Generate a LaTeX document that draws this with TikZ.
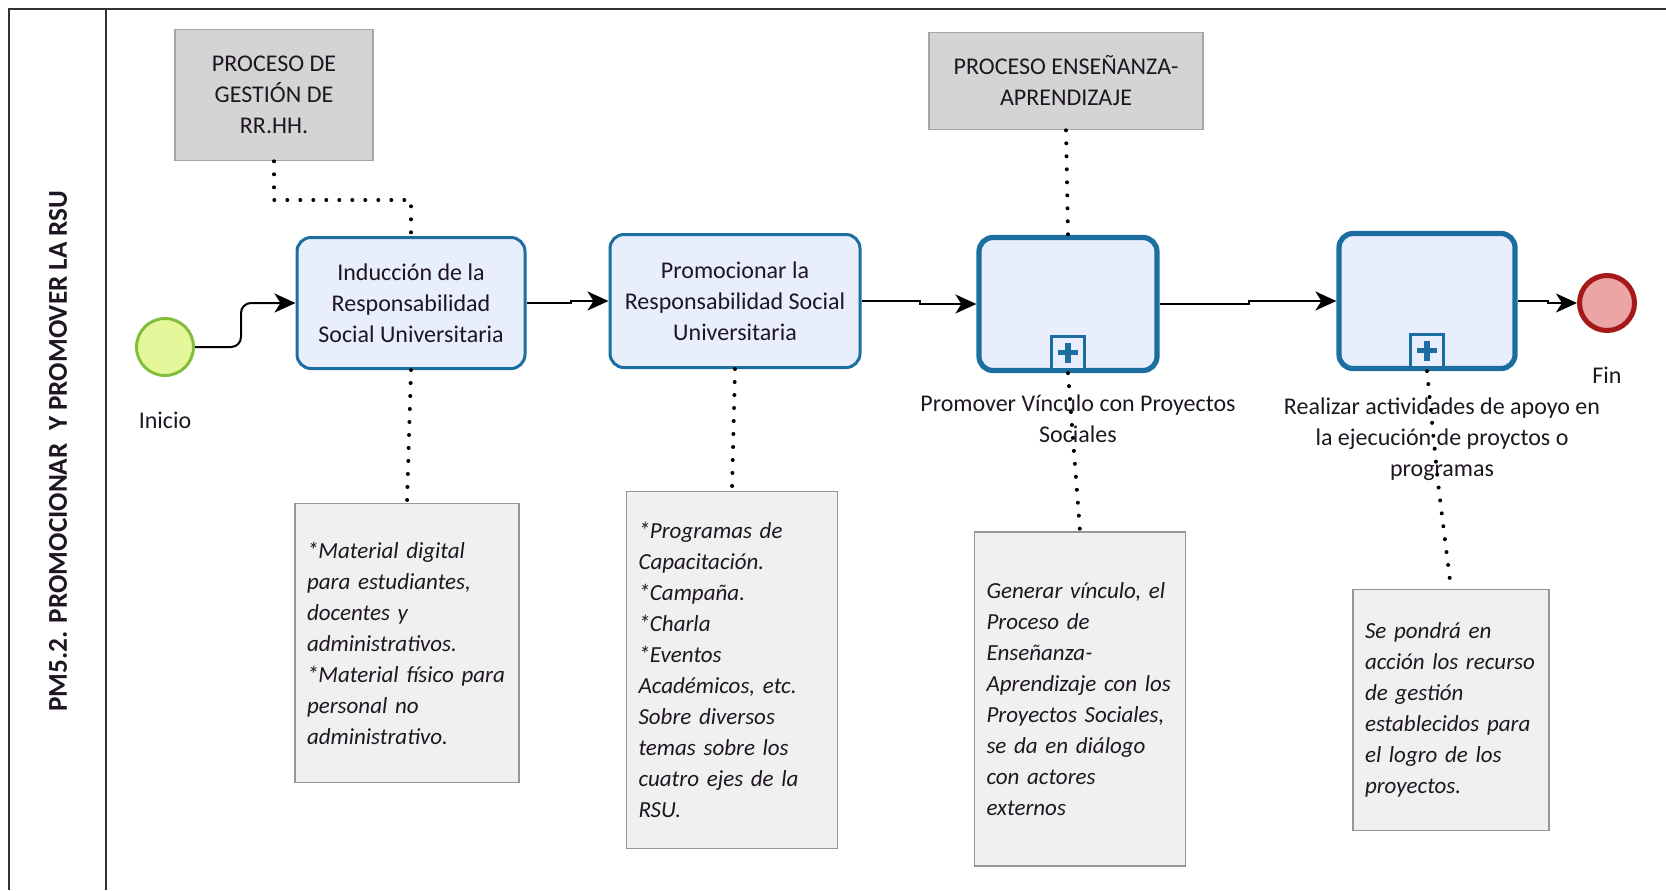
\documentclass[tikz,border=0pt]{standalone}
\usepackage{fontspec}
\setmainfont{Carlito}
\usepackage{tikz}
\usetikzlibrary{arrows.meta,positioning,calc}
\definecolor{rsuedge}{RGB}{28,110,160}
\definecolor{rsutask}{RGB}{232,238,251}
\definecolor{rsuproc}{RGB}{212,212,212}
\definecolor{rsuprocedge}{RGB}{165,165,165}
\definecolor{rsunote}{RGB}{240,240,240}
\definecolor{rsunoteedge}{RGB}{150,150,150}
\definecolor{rsustart}{RGB}{228,248,155}
\definecolor{rsustartedge}{RGB}{130,190,60}
\definecolor{rsuend}{RGB}{235,165,165}
\definecolor{rsuendedge}{RGB}{165,25,25}
\definecolor{rsuink}{RGB}{30,22,32}
\definecolor{rsuframe}{RGB}{50,50,50}
\tikzset{
  task/.style={
    draw=rsuedge, fill=rsutask, line width=1.5pt, rounded corners=7pt,
    align=center, inner sep=2pt, text=rsuink,
    font=\fontsize{12}{15.5}\selectfont
  },
  subp/.style={task, line width=2.6pt},
  proc/.style={
    draw=rsuprocedge, fill=rsuproc, line width=0.8pt, align=center,
    inner sep=2pt, text=rsuink, font=\fontsize{12}{15.5}\selectfont
  },
  note/.style={
    draw=rsunoteedge, fill=rsunote, line width=0.8pt, align=left,
    inner xsep=6pt, inner ysep=2pt, text=rsuink,
    font=\itshape\fontsize{11.5}{15.5}\selectfont
  },
  evstart/.style={circle, draw=rsustartedge, fill=rsustart, line width=1.5pt, minimum size=28.5pt},
  evend/.style={circle, draw=rsuendedge, fill=rsuend, line width=2.5pt, minimum size=27.5pt},
  lbl/.style={align=center, text=rsuink, inner sep=1pt, font=\fontsize{12}{15.5}\selectfont},
  lanetxt/.style={text=rsuink, inner sep=1pt, font=\bfseries\fontsize{13.6}{15}\selectfont},
  plusbox/.style={draw=rsuedge, fill=rsutask, line width=1.5pt, minimum size=16.5pt, inner sep=0pt},
  pluscross/.style={draw=rsuedge, line width=2.8pt},
  flow/.style={-{Stealth[length=10.5pt,width=9.5pt,inset=3pt]}, draw=black, line width=1pt},
  assoc/.style={draw=black, line width=2pt, line cap=round, dash pattern=on 0pt off 6.5pt},
  frameline/.style={draw=rsuframe, line width=1pt}
}
\begin{document}
\begin{tikzpicture}[x=0.5pt, y=-0.5pt]
  \useasboundingbox (0,0) rectangle (1666,890);
  % pool and lane
  \draw[frameline] (1666,8.5) -- (8.5,8.5) -- (8.5,890);
  \draw[frameline] (106,8.5) -- (106,890);
  \node[lanetxt, rotate=90] (lane) at (58,451) {PM5.2. PROMOCIONAR~~Y PROMOVER LA RSU};
  % events and activities
  \node[evstart] (ini) at (165,347) {};
  \node[lbl] (inilbl) at (165,420) {Inicio};
  \node[task, minimum width=114pt, minimum height=65.5pt] (t1) at (411,303)
    {Inducción de la\\Responsabilidad\\Social Universitaria};
  \node[task, minimum width=125pt, minimum height=66.5pt] (t2) at (735,301)
    {Promocionar la\\Responsabilidad Social\\Universitaria};
  \node[subp, minimum width=89pt, minimum height=66.5pt] (s3) at (1068,304) {};
  \node[subp, minimum width=88pt, minimum height=67.5pt] (s4) at (1427,301) {};
  \node[evend] (fin) at (1607,303) {};
  \node[lbl] (finlbl) at (1607,375) {Fin};
  \node[lbl] (s3lbl) at (1078,419) {Promover Vínculo con Proyectos\\Sociales};
  \node[lbl] (s4lbl) at (1442,439) {Realizar actividades de apoyo en\\la ejecución de proyctos o\\programas};
  % sub-process markers
  \foreach \s in {s3,s4} {
    \node[plusbox, anchor=south, yshift=1.3pt] (\s plus) at (\s.south) {};
    \draw[pluscross] ($(\s plus.center)+(-10,0)$) -- ($(\s plus.center)+(10,0)$);
    \draw[pluscross] ($(\s plus.center)+(0,-10)$) -- ($(\s plus.center)+(0,10)$);
  }
  % related processes
  \node[proc, minimum width=99pt, minimum height=65.5pt] (g1) at (274,95)
    {PROCESO DE\\GESTIÓN DE\\RR.HH.};
  \node[proc, minimum width=137pt, minimum height=48.5pt] (g2) at (1066,81)
    {PROCESO ENSEÑANZA-\\APRENDIZAJE};
  % annotations
  \node[note, text width=100pt, minimum height=139.5pt] (n1) at (407,643)
    {*Material digital\\para estudiantes,\\docentes y\\administrativos.\\{}*Material físico para\\personal no\\administrativo.};
  \node[note, text width=93.5pt, minimum height=178.5pt] (n2) at (732,670)
    {*Programas de\\Capacitación.\\{}*Campaña.\\{}*Charla\\{}*Eventos\\Académicos, etc.\\Sobre diversos\\temas sobre los\\cuatro ejes de la\\RSU.};
  \node[note, text width=93.5pt, minimum height=167pt] (n3) at (1080,699)
    {Generar vínculo, el\\Proceso de\\Enseñanza-\\Aprendizaje con los\\Proyectos Sociales,\\se da en diálogo\\con actores\\externos};
  \node[note, text width=86pt, minimum height=120.5pt] (n4) at (1451,710)
    {Se pondrá en\\acción los recurso\\de gestión\\establecidos para\\el logro de los\\proyectos.};
  % sequence flows
  \draw[flow, rounded corners=5pt] (ini.east) -- ++(46,0) |- (t1.west);
  \draw[flow] (t1.east) -- ++(44,0) |- (t2.west);
  \draw[flow] (t2.east) -- ++(58,0) |- (s3.west);
  \draw[flow] (s3.east) -- ++(89,0) |- (s4.west);
  \draw[flow] (s4.east) -- ++(30,0) |- (fin.west);
  % associations
  \draw[assoc] (g1.south) |- ($(t1.north)+(0,-36)$) -- (t1.north);
  \draw[assoc] (t1.south) -- (n1.north);
  \draw[assoc] (t2.south) -- (n2.north);
  \draw[assoc] (g2.south) -- (s3.north);
  \draw[assoc] (s3.south) -- (n3.north);
  \draw[assoc] (s4.south) -- ($(s4lbl.south)+(-4,0)$) -- (n4.north);
\end{tikzpicture}
\end{document}
